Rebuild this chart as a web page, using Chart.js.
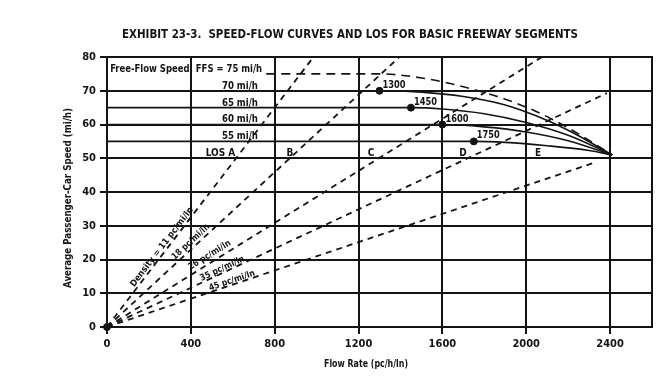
<!DOCTYPE html>
<html>
<head>
<meta charset="utf-8">
<style>
  html, body { margin: 0; padding: 0; background: #fff; }
</style>
<script src="https://cdn.jsdelivr.net/npm/chart.js@4/dist/chart.umd.min.js"></script>
</head>
<body>
<canvas id="chart1" width="672" height="376"></canvas>
<script>
// axis ticks
const xTicks = [0, 400, 800, 1200, 1600, 2000, 2400];
const yTicks = [0, 10, 20, 30, 40, 50, 60, 70, 80];

// speed-flow curves
const flow75 = [760, 1300, 1500, 1700, 1900, 2050, 2200, 2410];
const speed75 = [75, 75, 73.8, 71.2, 67.5, 63.8, 59, 51];
const flow70 = [0, 1300, 1500, 1700, 1900, 2050, 2200, 2410];
const speed70 = [70, 70, 69.6, 68.3, 65.8, 62.5, 58.3, 51];
const flow65 = [0, 1450, 1600, 1800, 2000, 2200, 2410];
const speed65 = [65, 65, 64.6, 63.2, 60.6, 56.8, 51];
const flow60 = [0, 1600, 1800, 2000, 2200, 2410];
const speed60 = [60, 60, 59.3, 57.8, 55.2, 51];
const flow55 = [0, 1750, 1900, 2100, 2300, 2410];
const speed55 = [55, 55, 54.7, 53.7, 52.3, 51];

// breakpoints
const breakFlow = [0, 1300, 1450, 1600, 1750];
const breakSpeed = [0, 70, 65, 60, 55];
const breakLabels = ["", "1300", "1450", "1600", "1750"];

// LOS density boundaries (lines from origin)
const densityLabels = ["Density = 11 pc/mi/ln", "18 pc/mi/ln", "26 pc/mi/ln", "35 pc/mi/ln", "45 pc/mi/ln"];
const densityEndFlow = [985, 1395, 2075, 2385, 2320];
const densityEndSpeed = [80, 80, 80, 69.3, 48.6];

// text labels
const ffsLabels = ["70 mi/h", "65 mi/h", "60 mi/h", "55 mi/h"];
const ffsLabelSpeed = [70.6, 65.6, 60.6, 55.6];
const losLabels = ["LOS A", "B", "C", "D", "E"];
const losFlow = [612, 873, 1260, 1698, 2056];

const FONT = "'Liberation Sans Narrow', 'DejaVu Sans Condensed', 'Arial Narrow', sans-serif";
const INK = "#141414";

const pts = (xs, ys) => xs.map((x, i) => ({ x: x, y: ys[i] }));

function curve(xs, ys, dashed) {
  return {
    data: pts(xs, ys),
    showLine: true,
    borderColor: INK,
    borderWidth: 1.6,
    borderDash: dashed ? [9, 6] : [],
    pointRadius: 0,
    cubicInterpolationMode: "monotone",
  };
}

const datasets = [];
densityEndFlow.forEach((f, i) => {
  datasets.push({
    data: [{ x: 0, y: 0 }, { x: f, y: densityEndSpeed[i] }],
    showLine: true,
    borderColor: INK,
    borderWidth: 1.8,
    borderDash: [6, 5],
    pointRadius: 0,
  });
});
datasets.push(curve(flow75, speed75, true));
datasets.push(curve(flow70, speed70, false));
datasets.push(curve(flow65, speed65, false));
datasets.push(curve(flow60, speed60, false));
datasets.push(curve(flow55, speed55, false));
datasets.push({
  data: pts(breakFlow, breakSpeed),
  showLine: false,
  pointRadius: 3.5,
  pointBackgroundColor: INK,
  pointBorderColor: INK,
  clip: false,
});

// fit text horizontally into a width if the font runs wider
function fitText(ctx, text, x, y, maxW, align) {
  const w = ctx.measureText(text).width;
  const s = w > maxW ? maxW / w : 1;
  ctx.save();
  ctx.translate(x, y);
  ctx.scale(s, 1);
  ctx.textAlign = align || "center";
  ctx.fillText(text, 0, 0);
  ctx.restore();
}

const labelPlugin = {
  id: "labels",
  afterDraw(chart) {
    const ctx = chart.ctx;
    const xs = chart.scales.x, ys = chart.scales.y;
    const a = chart.chartArea;
    ctx.save();
    ctx.fillStyle = INK;
    ctx.strokeStyle = INK;

    // right border
    ctx.lineWidth = 2;
    ctx.strokeRect(a.left, a.top, a.right - a.left, a.bottom - a.top);

    // title
    ctx.font = "bold 12px " + FONT;
    ctx.textBaseline = "middle";
    fitText(ctx, "EXHIBIT 23-3.  SPEED-FLOW CURVES AND LOS FOR BASIC FREEWAY SEGMENTS", 350, 35, 456);

    // axis titles
    ctx.font = "bold 11px " + FONT;
    fitText(ctx, "Flow Rate (pc/h/ln)", 366, 364, 84);
    ctx.save();
    ctx.translate(68, 198);
    ctx.rotate(-Math.PI / 2);
    fitText(ctx, "Average Passenger-Car Speed (mi/h)", 0, 0, 180);
    ctx.restore();

    // FFS labels
    ctx.font = "bold 10px " + FONT;
    ctx.textBaseline = "alphabetic";
    fitText(ctx, "Free-Flow Speed, FFS = 75 mi/h", xs.getPixelForValue(15), ys.getPixelForValue(75.6), 152, "left");
    ffsLabels.forEach((t, i) => {
      fitText(ctx, t, xs.getPixelForValue(720), ys.getPixelForValue(ffsLabelSpeed[i]), 36, "right");
    });
    losLabels.forEach((t, i) => {
      fitText(ctx, t, xs.getPixelForValue(losFlow[i]), ys.getPixelForValue(50.6), 40, i === 0 ? "right" : "center");
    });
    breakLabels.forEach((t, i) => {
      if (!t) return;
      fitText(ctx, t, xs.getPixelForValue(breakFlow[i]) + 3, ys.getPixelForValue(breakSpeed[i]) - 3, 23, "left");
    });

    // density labels along the lines
    const labelAt = [[262, 23.7], [400, 25.2], [490, 21.3], [550, 17.3], [596, 13.7]];
    ctx.font = "bold 9px " + FONT;
    ctx.textBaseline = "middle";
    densityLabels.forEach((t, i) => {
      const x0 = xs.getPixelForValue(0), y0 = ys.getPixelForValue(0);
      const x1 = xs.getPixelForValue(densityEndFlow[i]), y1 = ys.getPixelForValue(densityEndSpeed[i]);
      const ang = Math.atan2(y1 - y0, x1 - x0);
      ctx.save();
      ctx.translate(xs.getPixelForValue(labelAt[i][0]), ys.getPixelForValue(labelAt[i][1]));
      ctx.rotate(ang);
      fitText(ctx, t, 0, 0, i === 0 ? 98 : 48);
      ctx.restore();
    });
    ctx.restore();
  },
};

new Chart(document.getElementById("chart1"), {
  type: "scatter",
  data: { datasets: datasets },
  options: {
    responsive: false,
    devicePixelRatio: 1,
    animation: false,
    layout: { padding: { top: 57, right: 20, left: 0, bottom: 0 } },
    plugins: { legend: { display: false }, tooltip: { enabled: false } },
    scales: {
      x: {
        type: "linear",
        min: 0,
        max: 2600,
        afterBuildTicks: (s) => { s.ticks = xTicks.map((v) => ({ value: v })); },
        afterFit: (s) => { s.height = 49; },
        grid: { color: INK, lineWidth: 2, tickLength: 7 },
        border: { color: INK, width: 2 },
        ticks: {
          color: INK, padding: 4, maxRotation: 0,
          font: { family: FONT, size: 11, weight: "bold" },
          callback: (v) => String(v),
        },
      },
      y: {
        type: "linear",
        min: 0,
        max: 80,
        afterBuildTicks: (s) => { s.ticks = yTicks.map((v) => ({ value: v })); },
        afterFit: (s) => { s.width = 107; },
        grid: { color: INK, lineWidth: 2, tickLength: 7 },
        border: { color: INK, width: 2 },
        ticks: {
          color: INK, padding: 4,
          font: { family: FONT, size: 11, weight: "bold" },
          callback: (v) => String(v),
        },
      },
    },
  },
  plugins: [labelPlugin],
});
</script>
</body>
</html>
